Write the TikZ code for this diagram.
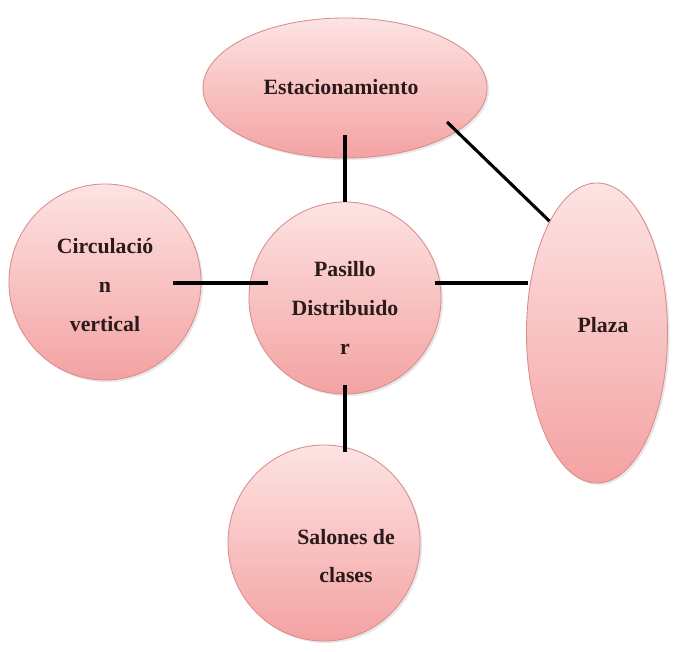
\documentclass[tikz,border=0pt]{standalone}
\usepackage{fontspec}
\setmainfont{Liberation Serif}
\usepackage{tikz}
\usetikzlibrary{shapes.geometric,calc,shadows}
\definecolor{pinktop}{HTML}{FDE3E3}
\definecolor{pinkbot}{HTML}{F4A2A2}
\definecolor{pinkline}{HTML}{D88C8C}
\definecolor{inktxt}{HTML}{2B1A1A}

\begin{document}
\begin{tikzpicture}[x=0.025cm,y=-0.025cm,
  zone/.style={ellipse,draw=pinkline,line width=0.6pt,top color=pinktop,bottom color=pinkbot,
    inner sep=0pt,drop shadow={opacity=0.18,shadow xshift=1.5pt,shadow yshift=-1.5pt}},
  txt/.style={align=center,text=inktxt,font=\bfseries\fontsize{15.5}{27.5}\selectfont},
  link/.style={line width=2.2pt,black}]
  \useasboundingbox (0,0) rectangle (673,652);

  \node[zone,minimum width=7.1cm,minimum height=3.5cm] (est) at (345,88) {};
  \node[zone,minimum width=4.8cm,minimum height=4.9cm] (circ) at (105,282) {};
  \node[zone,minimum width=4.8cm,minimum height=4.8cm] (pas) at (345,298) {};
  \node[zone,minimum width=3.525cm,minimum height=7.5cm] (plaza) at (597,333) {};
  \node[zone,minimum width=4.8cm,minimum height=4.9cm] (sal) at (324,543) {};

  \node[txt] (est-txt) at ($(est.center)+(-4,-1)$) {Estacionamiento};
  \node[txt] (circ-txt) at ($(circ.center)+(0,3)$) {Circulació\\n\\vertical};
  \node[txt] (pas-txt) at ($(pas.center)+(0,10)$) {Pasillo\\Distribuido\\r};
  \node[txt] (plaza-txt) at ($(plaza.center)+(6,-8)$) {Plaza};
  \node[txt] (sal-txt) at ($(sal.center)+(22,13)$) {Salones de\\clases};

  % connectors
  \draw[link] ($(est.center)+(0,47)$) -- (pas.north);
  \draw[link] ($(est.center)+(102,34)$) -- (plaza.113);
  \draw[link] ($(circ.center)+(68,1)$) -- ($(pas.center)+(-77,-15)$);
  \draw[link] ($(pas.center)+(90,-15)$) -- ($(plaza.center)+(-69,-50)$);
  \draw[link] ($(pas.center)+(0,87)$) -- ($(sal.center)+(21,-91)$);
\end{tikzpicture}
\end{document}
